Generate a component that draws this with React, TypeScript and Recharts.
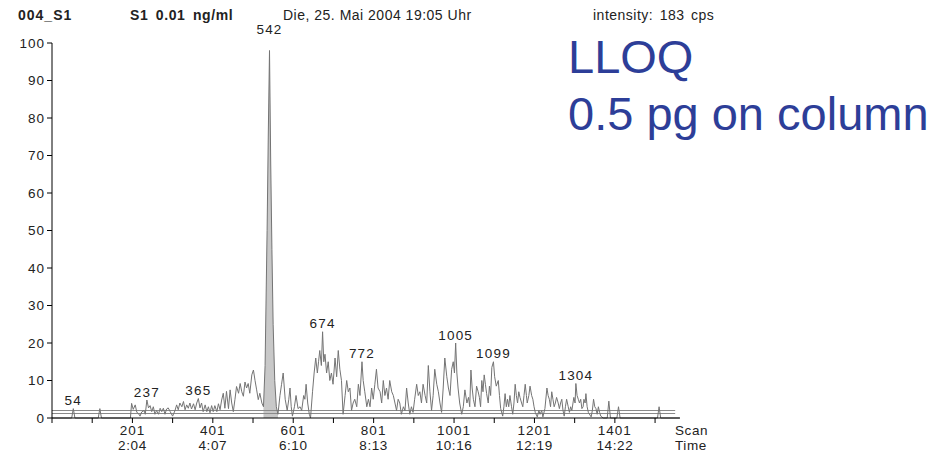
import { ComposedChart, Line, Area, Scatter, XAxis, YAxis, ReferenceLine } from 'recharts'

// trace samples: scan number -> relative intensity (%)
const scans = [
  1, 50, 54, 58, 116, 120, 124, 196,
  199, 203, 208, 212, 216, 220, 224, 230, 233, 237, 241, 245, 249, 253, 257, 261, 266, 270,
  274, 278, 282, 286, 290, 295, 301, 307, 311, 315, 319, 324, 328, 332, 336, 340, 344, 348,
  353, 357, 361, 365, 369, 373, 377, 382, 386, 390, 394, 398, 402, 406, 411, 415, 419, 423,
  427, 431, 435, 440, 444, 448, 452, 456, 460, 465, 469, 473, 477, 481, 485, 489, 493, 498,
  502, 506, 510, 514, 518, 523, 527,
  531, 536, 539, 542, 545, 548, 551, 555, 559, 563,
  568, 572, 576, 581, 586, 590, 593, 596, 599, 604, 608, 613, 618, 622, 627, 630, 633, 637,
  641, 644, 649, 653, 657, 661, 664, 667, 671, 674, 677, 680, 684, 688, 692, 696, 700, 705,
  709, 713, 717, 721, 725, 730, 734, 738, 742, 746, 750, 754, 759, 763, 767, 772, 775, 779,
  784, 788, 792, 796, 800, 804, 808, 812, 817, 821, 825, 829, 833, 837, 841, 846, 850, 854,
  858, 862, 866, 870, 875, 879, 883, 887, 891, 895, 899, 903, 908, 912, 916, 920, 924, 929,
  933, 937, 941, 945, 949, 953, 958, 962, 966, 970, 974, 978, 983, 987, 991, 995, 999, 1002,
  1005, 1008, 1011, 1015, 1020,
  1024, 1028, 1033, 1037, 1040, 1043, 1046, 1049, 1053, 1057, 1061, 1064, 1067, 1070, 1073,
  1076, 1079, 1082, 1086, 1089, 1092, 1095, 1099, 1102, 1106, 1111, 1114, 1117, 1122, 1125,
  1128, 1131, 1134, 1137, 1140, 1144, 1147, 1150, 1153, 1156, 1159, 1162, 1165, 1169, 1172,
  1175, 1178, 1181, 1183, 1187, 1190, 1194, 1197, 1200, 1203, 1208, 1212, 1215, 1219, 1222,
  1227, 1232, 1235, 1238, 1241, 1244, 1247, 1250, 1253, 1256, 1260, 1263, 1266, 1269, 1272,
  1275, 1278, 1281, 1285, 1288, 1291, 1294, 1299, 1302, 1304, 1307, 1310, 1313, 1316, 1319,
  1322, 1324, 1327, 1329, 1332, 1335, 1342, 1345, 1348, 1351, 1354, 1357, 1360, 1363, 1366,
  1372, 1382, 1386, 1390, 1406, 1410, 1414, 1507, 1511, 1515, 1562,
]

const intensity = [
  0, 0, 2.5, 0, 0, 2.5, 0, 0,
  3.9, 2.3, 3.5, 1.5, 1.2, 0.5, 1.6, 2, 1, 4.8, 2.7, 3.3, 1.7, 3, 1, 2, 1, 2.6,
  1.7, 2.6, 1, 2.4, 2.7, 1.7, 0.5, 2, 3.5, 2.2, 4, 3, 4.4, 2.2, 3.5, 2.6, 4, 2.4,
  3.8, 2.2, 4, 5.2, 2.7, 4, 1.7, 3.5, 1.7, 3, 1.4, 3.3, 1.7, 3.3, 1.7, 3.8, 2.2, 4.8,
  6.6, 2.6, 7.1, 2.5, 7.5, 4, 1.7, 4.9, 8.4, 6.6, 9.2, 7, 5.8, 9.6, 8, 9.2, 6.6, 11.5,
  12.8, 10, 7.5, 4.9, 6.6, 4, 3,
  14, 50, 76, 98, 68, 45, 25, 10, 3, 1,
  6, 9, 12, 5, 2, 5, 8, 3, 0.5, 3, 6, 2.5, 3, 2, 6, 5, 9, 4,
  1, 0, 7, 12, 16, 12, 15, 18, 14, 23, 15, 17, 12, 15, 10, 12, 9, 16,
  11, 18, 13, 10, 1, 6, 10, 7, 8, 2, 4, 5, 3, 9, 6, 15, 10, 7,
  3, 5, 3, 8, 5, 9, 13, 8, 7, 4, 10, 6, 8, 5, 10, 7, 6, 4,
  2, 5, 4, 1, 3, 2, 8, 4, 1, 3, 1.5, 5, 9, 6, 7, 4, 9, 6,
  4, 14, 7, 2, 6, 13, 9, 7, 4, 1.5, 8, 16, 11, 8, 6, 13, 15, 12,
  20, 12, 8, 4, 1,
  3, 7.5, 4, 5.5, 3, 12.8, 8, 5, 3, 8.5, 7, 5.5, 3, 10, 7,
  11.5, 9, 6.5, 4, 8.5, 6, 13.5, 15, 11, 8.5, 10, 6, 2.5, 0.5, 3,
  6.5, 3, 5, 3, 6, 3, 1, 4, 9, 6, 4, 7, 5.5, 4, 3,
  6, 9, 6, 4, 6, 8.5, 6, 5, 3, 1.5, 0.3, 2, 1, 2, 0.3,
  2.5, 8, 6, 5, 3, 7, 5, 3, 4, 5.5, 4, 2.5, 4, 5, 2,
  0.5, 3, 5, 3, 1.5, 3, 2, 5.5, 4, 9.2, 6, 5, 4, 5, 2.5,
  3, 5, 4, 6.5, 3, 1.5, 0.3, 2, 5, 3, 2.5, 1, 3, 1.5, 0.5,
  0, 0, 4.5, 0, 0, 3, 0, 0, 3, 0, 0,
]

// labelled peak apexes
const peakScans = [54, 237, 365, 542, 674, 772, 1005, 1099, 1304]

// shaded integration window of the main peak
const fillStart = 527
const fillEnd = 563

const scanTicks = [1, 101, 201, 301, 401, 501, 601, 701, 801, 901, 1001, 1101, 1201, 1301, 1401, 1501]
const labelledScans = [201, 401, 601, 801, 1001, 1201, 1401]
const timeLabels = ['2:04', '4:07', '6:10', '8:13', '10:16', '12:19', '14:22']
const yTicks = [0, 10, 20, 30, 40, 50, 60, 70, 80, 90, 100]

// threshold lines just above the baseline
const baseLines = [1.2, 2.0]

const data = scans.map((scan, i) => ({
  scan,
  intensity: intensity[i],
  peakFill: scan >= fillStart && scan <= fillEnd ? intensity[i] : null,
}))

const peakData = peakScans.map((scan) => ({ scan, intensity: intensity[scans.indexOf(scan)] }))

const FONT = '"Liberation Sans", Arial, Helvetica, sans-serif'
const PLOT_TOP = 43

function ScanTick({ x, y, payload }: any) {
  const idx = labelledScans.indexOf(payload.value)
  if (idx < 0) return null
  return (
    <g>
      <text x={x} y={y + 10} textAnchor="middle" fontSize={13.5} letterSpacing={1} fill="#222" fontFamily={FONT}>
        {payload.value}
      </text>
      <text x={x} y={y + 25} textAnchor="middle" fontSize={13.5} letterSpacing={0.6} fill="#222" fontFamily={FONT}>
        {timeLabels[idx]}
      </text>
    </g>
  )
}

// scan number above each apex; a peak that reaches the top goes above the frame
function PeakLabel({ cx, cy, payload }: any) {
  if (cx == null || cy == null) return null
  const y = cy - 3.5 < PLOT_TOP + 10 ? PLOT_TOP - 9 : cy - 3.5
  return (
    <text x={cx} y={y} textAnchor="middle" fontSize={13.5} letterSpacing={1.2} fill="#222" fontFamily={FONT}>
      {payload.scan}
    </text>
  )
}

export default function App() {
  return (
    <div style={{ position: 'absolute', left: 0, top: 0, width: 949, height: 454, background: '#fff' }}>
      <ComposedChart
        width={949}
        height={454}
        data={data}
        margin={{ top: PLOT_TOP, right: 269, bottom: 0, left: 12 }}
      >
        <XAxis
          type="number"
          dataKey="scan"
          domain={[1, 1563]}
          ticks={scanTicks}
          interval={0}
          height={36}
          tickSize={5}
          tickMargin={2}
          axisLine={{ stroke: '#000' }}
          tickLine={{ stroke: '#000' }}
          tick={<ScanTick />}
        />
        <YAxis
          type="number"
          domain={[0, 100]}
          ticks={yTicks}
          interval={0}
          width={40}
          tickSize={5}
          tickMargin={2}
          axisLine={{ stroke: '#000' }}
          tickLine={{ stroke: '#000' }}
          tick={{ fontSize: 13.5, fill: '#222', fontFamily: FONT, letterSpacing: 1 }}
        />
        {baseLines.map((v) => (
          <ReferenceLine
            key={v}
            segment={[{ x: 1, y: v }, { x: 1551, y: v }]}
            stroke="#8a8a8a"
            strokeWidth={1}
          />
        ))}
        <Area
          type="linear"
          dataKey="peakFill"
          fill="#c8c8c8"
          fillOpacity={1}
          stroke="none"
          isAnimationActive={false}
        />
        <Line
          type="linear"
          dataKey="intensity"
          stroke="#747474"
          strokeWidth={1}
          dot={false}
          isAnimationActive={false}
        />
        <Scatter data={peakData} dataKey="intensity" shape={<PeakLabel />} isAnimationActive={false} />
      </ComposedChart>
      <svg width={949} height={454} style={{ position: 'absolute', left: 0, top: 0, pointerEvents: 'none' }}>
        <g fontFamily={FONT} fill="#222" fontSize={14}>
          <text x={18} y={20} fontWeight="bold" letterSpacing={1}>004_S1</text>
          <text x={130} y={20} fontWeight="bold" letterSpacing={0.6} wordSpacing={3}>S1 0.01 ng/ml</text>
          <text x={283} y={20} letterSpacing={0.5}>Die, 25. Mai 2004 19:05 Uhr</text>
          <text x={593} y={20} letterSpacing={0.5} wordSpacing={2}>intensity: 183 cps</text>
          <text x={675} y={435} fontSize={13.5} letterSpacing={0.6}>Scan</text>
          <text x={675} y={450} fontSize={13.5} letterSpacing={0.6}>Time</text>
        </g>
        <g fontFamily={FONT} fill="#2d3e98" fontSize={47}>
          <text x={568} y={73}>LLOQ</text>
          <text x={568} y={130}>0.5 pg on column</text>
        </g>
      </svg>
    </div>
  )
}
